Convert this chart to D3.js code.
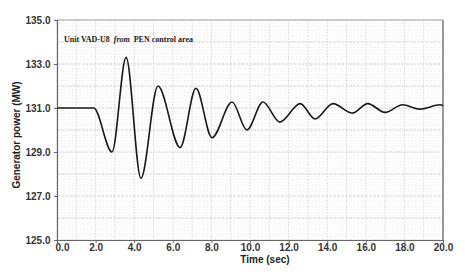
<!DOCTYPE html>
<html>
<head>
<meta charset="utf-8">
<script src="https://cdn.jsdelivr.net/npm/d3@7"></script>
<style>
  body { margin: 0; background: #fff; }
  text { font-family: "Liberation Sans", Arial, sans-serif; }
</style>
</head>
<body>
<div id="chart"></div>
<script>
// values (extrema of the swing)
const timeSec = [0, 1.9, 2.85, 3.58, 4.35, 5.23, 6.38, 7.2, 8.03, 9.07, 9.84, 10.67, 11.55, 12.6, 13.37, 14.3, 15.3, 16.1, 17.0, 17.9, 18.8, 19.85, 20];
const powerMW = [131.0, 131.0, 129.0, 133.3, 127.8, 132.0, 129.2, 131.9, 129.65, 131.27, 130.0, 131.27, 130.36, 131.2, 130.5, 131.2, 130.77, 131.2, 130.8, 131.15, 130.95, 131.15, 131.1];
const xTicks = [0, 2, 4, 6, 8, 10, 12, 14, 16, 18, 20];
const yTicks = [125, 127, 129, 131, 133, 135];

const width = 465, height = 274;
const margin = { top: 20, right: 22, bottom: 34, left: 57 };

const svg = d3.select("#chart").append("svg")
  .attr("width", width)
  .attr("height", height);

const x = d3.scaleLinear()
  .domain([0, 20])
  .range([margin.left, width - margin.right]);

const y = d3.scaleLinear()
  .domain([125, 135])
  .range([height - margin.bottom, margin.top]);

// minor dotted grid
svg.append("g")
  .selectAll("line")
  .data(d3.range(0, 20.01, 0.2))
  .enter().append("line")
  .attr("x1", d => x(d)).attr("x2", d => x(d))
  .attr("y1", y(135)).attr("y2", y(125))
  .attr("stroke", "#ebebeb")
  .attr("stroke-dasharray", "1,2");

svg.append("g")
  .selectAll("line")
  .data(d3.range(125, 135.01, 0.25))
  .enter().append("line")
  .attr("x1", x(0)).attr("x2", x(20))
  .attr("y1", d => y(d)).attr("y2", d => y(d))
  .attr("stroke", "#eeeeee")
  .attr("stroke-dasharray", "1,2");

// major grid
svg.append("g")
  .selectAll("line")
  .data(d3.range(0, 20.01, 1))
  .enter().append("line")
  .attr("x1", d => x(d)).attr("x2", d => x(d))
  .attr("y1", y(135)).attr("y2", y(125))
  .attr("stroke", "#dedede")
  .attr("stroke-dasharray", "2,1");

svg.append("g")
  .selectAll("line")
  .data(d3.range(125, 135.01, 1))
  .enter().append("line")
  .attr("x1", x(0)).attr("x2", x(20))
  .attr("y1", d => y(d)).attr("y2", d => y(d))
  .attr("stroke", "#d8d8d8")
  .attr("stroke-dasharray", "3,1");

// frame
svg.append("line")
  .attr("x1", x(0)).attr("x2", x(20))
  .attr("y1", y(135)).attr("y2", y(135))
  .attr("stroke", "#aaa");
svg.append("line")
  .attr("x1", x(20)).attr("x2", x(20))
  .attr("y1", y(135)).attr("y2", y(125))
  .attr("stroke", "#999").attr("stroke-width", 2);

// axes
const xAxis = svg.append("g")
  .attr("transform", `translate(0,${y(125)})`)
  .call(d3.axisBottom(x).tickValues(xTicks).tickFormat(d3.format(".1f")).tickSize(3).tickPadding(1));
const yAxis = svg.append("g")
  .attr("transform", `translate(${x(0)},0)`)
  .call(d3.axisLeft(y).tickValues(yTicks).tickFormat(d3.format(".1f")).tickSize(3));

[xAxis, yAxis].forEach(g => {
  g.select(".domain").attr("stroke", "#666").attr("stroke-width", 1.2);
  g.selectAll(".tick line").attr("stroke", "#666");
  g.selectAll("text")
    .attr("font-size", 10)
    .attr("font-weight", "bold")
    .attr("fill", "#333")
    .style("font-family", "'Liberation Sans', Arial, sans-serif");
});
xAxis.selectAll(".tick").filter(d => d === 0).select("text").attr("dx", 5);
yAxis.selectAll("text").attr("dx", -0.5);

// curve
svg.append("path")
  .datum(timeSec.map((t, i) => [t, powerMW[i]]))
  .attr("fill", "none")
  .attr("stroke", "#1a1a1a")
  .attr("stroke-width", 1.6)
  .attr("d", d3.line()
    .x(d => x(d[0]))
    .y(d => y(d[1]))
    .curve(d3.curveMonotoneX));

// labels
svg.append("text")
  .attr("transform", "rotate(-90)")
  .attr("x", -135)
  .attr("y", 20)
  .attr("font-size", 10)
  .attr("font-weight", "bold")
  .attr("fill", "#222")
  .style("text-anchor", "middle")
  .text("Generator power (MW)");

svg.append("text")
  .attr("x", 265)
  .attr("y", 263)
  .attr("font-size", 10)
  .attr("font-weight", "bold")
  .attr("fill", "#222")
  .style("text-anchor", "middle")
  .text("Time (sec)");

const note = svg.append("text")
  .attr("x", 64)
  .attr("y", 42)
  .attr("font-size", 8)
  .attr("font-weight", "bold")
  .attr("fill", "#222")
  .style("font-family", "'Liberation Serif', 'Times New Roman', serif")
  .style("white-space", "pre");
note.append("tspan").text("Unit VAD-U8  ");
note.append("tspan").attr("font-style", "italic").text("from");
note.append("tspan").text("  PEN control area");
</script>
</body>
</html>
